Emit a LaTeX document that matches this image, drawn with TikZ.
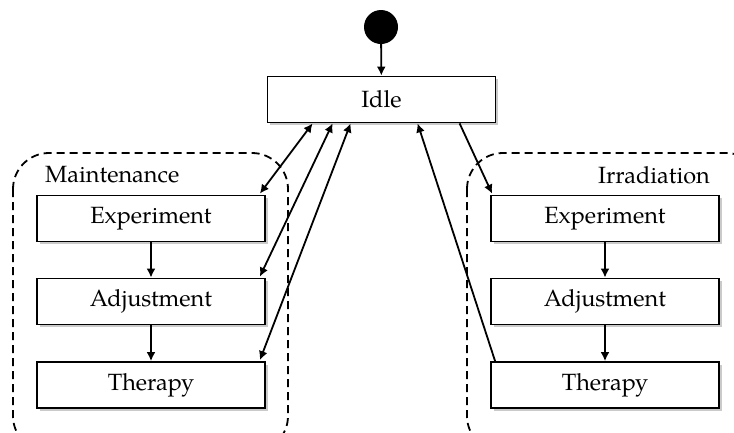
\documentclass[tikz,border=0pt]{standalone}
\usepackage{fontspec}
\setmainfont{TeX Gyre Pagella}
\usetikzlibrary{calc,shadows,arrows.meta}
\begin{document}
\begin{tikzpicture}[x=1pt,y=-1pt,
  state/.style={draw,line width=1.8pt,fill=white,minimum width=228pt,minimum height=46pt,
    inner sep=0pt,font=\fontsize{23.5}{27}\selectfont,
    drop shadow={shadow xshift=2.5pt,shadow yshift=-2.5pt,opacity=0.35,fill=black!60}},
  conn/.style={line width=1.8pt,-{Latex[length=9pt,width=9pt]}},
  biconn/.style={line width=1.8pt,{Latex[length=9pt,width=9pt]}-{Latex[length=9pt,width=9pt]}},
  group/.style={line width=1.8pt,dash pattern=on 8pt off 5pt,rounded corners=36pt},
  grouplabel/.style={font=\fontsize{23.5}{27}\selectfont,inner sep=0pt}]
\useasboundingbox (0,0) rectangle (734,432);

% clusters
\draw[group] (13,153) rectangle (288,452);
\draw[group] (467,153) rectangle (762,452);
\node[grouplabel,anchor=west] (mlab) at (45,175) {Maintenance};
\node[grouplabel,anchor=east] (ilab) at (710,175) {Irradiation};

% initial state and Idle
\node[circle,fill=black,minimum size=34pt,inner sep=0pt] (init) at (381,27) {};
\node[state] (idle) at (381.5,99.5) {Idle};

% maintenance states
\node[state] (le) at (151,218.5) {Experiment};
\node[state] (la) at (151,301.5) {Adjustment};
\node[state] (lt) at (151,385) {Therapy};

% irradiation states
\node[state] (re) at (605,218.5) {Experiment};
\node[state] (ra) at (605,301.5) {Adjustment};
\node[state] (rt) at (605,385) {Therapy};

% transitions
\draw[conn] (init) -- (idle);
\draw[conn] (le) -- (la);
\draw[conn] (la) -- (lt);
\draw[conn] (re) -- (ra);
\draw[conn] (ra) -- (rt);

\draw[biconn] ($(idle.south west)+(46,0)$) -- ($(le.north east)+(-6,-1)$);
\draw[biconn] ($(idle.south west)+(66,0)$) -- ($(la.north east)+(-6,-1)$);
\draw[biconn] ($(idle.south west)+(84,0)$) -- ($(lt.north east)+(-6,-1)$);
\draw[conn] ($(idle.south west)+(193,0)$) -- ($(re.north west)+(2,-1)$);
\draw[conn] ($(rt.north west)+(5,0)$) -- ($(idle.south west)+(151,0)$);
\end{tikzpicture}
\end{document}
